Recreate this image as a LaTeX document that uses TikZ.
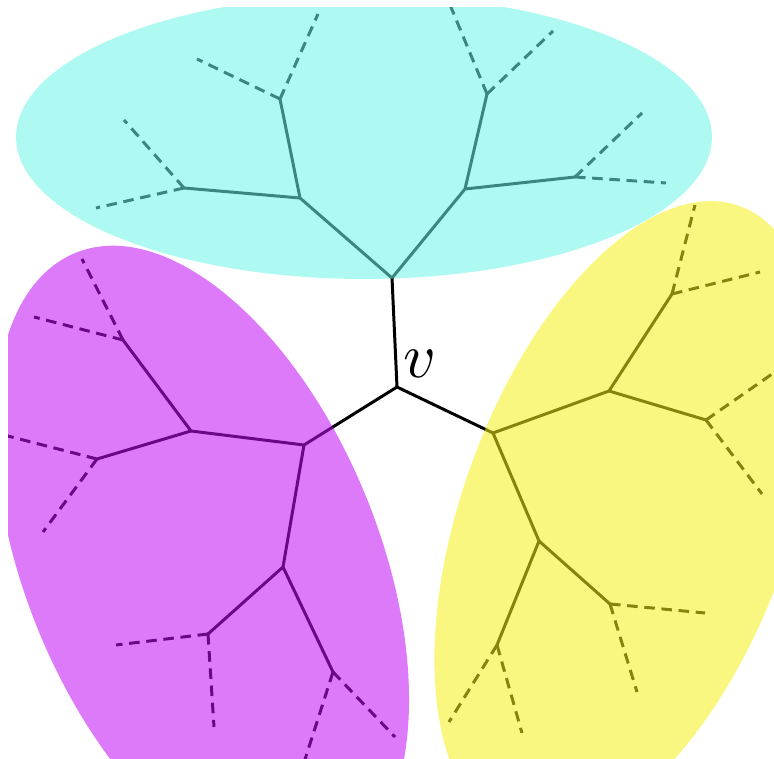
\documentclass[tikz,border=0pt]{standalone}
\definecolor{cyanE}{RGB}{108,246,231}
\definecolor{magE}{RGB}{191,13,246}
\definecolor{yelE}{RGB}{246,240,24}
\begin{document}
\begin{tikzpicture}[x=0.02cm,y=-0.02cm,
  edge/.style={line width=1.7pt},
  leaf/.style={line width=1.7pt, dash pattern=on 6pt off 3.8pt},
  blob/.style={fill opacity=0.55}]
\useasboundingbox (0,0) rectangle (774,759);
\begin{scope}
\clip (8,8) rectangle (774,759);
% root
\coordinate (v) at (397,387);
% cyan subtree
\coordinate (c0) at (392,278);
\coordinate (c1) at (300,198);
\coordinate (c2) at (465,189);
\coordinate (c11) at (280,99);
\coordinate (c12) at (184,188);
\coordinate (c21) at (487,94);
\coordinate (c22) at (575,177);
\coordinate (c11a) at (197,59);
\coordinate (c11b) at (318,14);
\coordinate (c12a) at (124,120);
\coordinate (c12b) at (96,208);
\coordinate (c21a) at (448,0);
\coordinate (c21b) at (553,31);
\coordinate (c22a) at (642,113);
\coordinate (c22b) at (666,183);
% magenta subtree
\coordinate (m0) at (304,445);
\coordinate (m1) at (191,431);
\coordinate (m2) at (283,567);
\coordinate (m11) at (123,340);
\coordinate (m12) at (97,459);
\coordinate (m21) at (208,634);
\coordinate (m22) at (333,672);
\coordinate (m11a) at (82,259);
\coordinate (m11b) at (34,317);
\coordinate (m12a) at (0,434);
\coordinate (m12b) at (43,532);
\coordinate (m21a) at (116,645);
\coordinate (m21b) at (214,727);
\coordinate (m22a) at (395,737);
\coordinate (m22b) at (300,775);
% yellow subtree
\coordinate (y0) at (493,433);
\coordinate (y1) at (609,391);
\coordinate (y2) at (539,541);
\coordinate (y11) at (672,294);
\coordinate (y12) at (706,420);
\coordinate (y21) at (497,645);
\coordinate (y22) at (610,604);
\coordinate (y11a) at (695,205);
\coordinate (y11b) at (760,272);
\coordinate (y12a) at (785,365);
\coordinate (y12b) at (762,494);
\coordinate (y21a) at (449,722);
\coordinate (y21b) at (522,733);
\coordinate (y22a) at (705,613);
\coordinate (y22b) at (637,692);
% solid edges
\draw[edge] (v) -- (c0) (c0) -- (c1) (c0) -- (c2) (c1) -- (c11) (c1) -- (c12) (c2) -- (c21) (c2) -- (c22);
\draw[edge] (v) -- (m0) (m0) -- (m1) (m0) -- (m2) (m1) -- (m11) (m1) -- (m12) (m2) -- (m21) (m2) -- (m22);
\draw[edge] (v) -- (y0) (y0) -- (y1) (y0) -- (y2) (y1) -- (y11) (y1) -- (y12) (y2) -- (y21) (y2) -- (y22);
% dashed leaves
\foreach \p in {c11,c12,c21,c22,m11,m12,m21,m22,y11,y12,y21,y22}{
  \draw[leaf] (\p) -- (\p a);
  \draw[leaf] (\p) -- (\p b);
}
% regions
\fill[blob, cyanE] (364,137) ellipse [x radius=6.96cm, y radius=2.84cm];
\fill[blob, magE, rotate around={-67.8:(202,563)}] (202,563) ellipse [x radius=6.70cm, y radius=3.54cm];
\fill[blob, yelE, rotate around={70:(626,519)}] (626,519) ellipse [x radius=6.66cm, y radius=3.28cm];
\end{scope}
\node[scale=3.6, inner sep=0pt] (vlabel) at (420,364) {$v$};
\end{tikzpicture}
\end{document}
